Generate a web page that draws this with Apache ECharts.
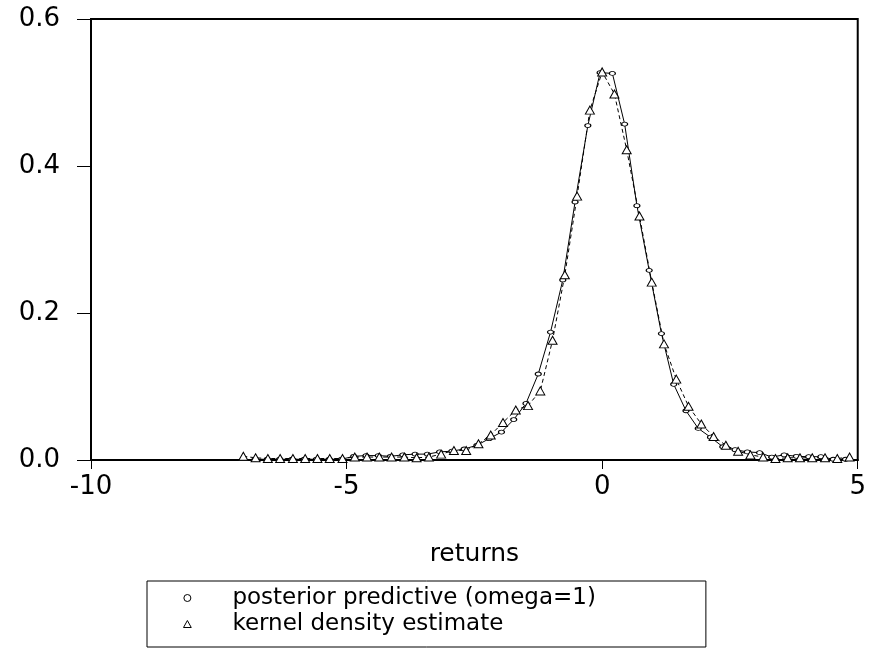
<!DOCTYPE html>
<html><head><meta charset="UTF-8">
<title>returns density</title>
<script src="https://cdn.jsdelivr.net/npm/echarts@6/dist/echarts.min.js"></script>
<style>
  *{padding:0;margin:0;}
  html,body{width:100%;height:100%;background:#fff;}
  #main{width:869px;height:650px;}
</style>
</head>
<body>
<div id="main"></div>
<script>
// posterior predictive (omega=1) - solid line, small circles
var ppX = [-6.79,-6.55,-6.31,-6.07,-5.83,-5.59,-5.34,-5.10,-4.86,-4.62,-4.38,-4.14,-3.90,-3.66,-3.42,-3.18,-2.94,-2.70,-2.45,-2.21,
           -1.97,-1.73,-1.49,-1.25,-1.01,-0.77,-0.53,-0.28,-0.04,0.20,0.44,0.68,0.92,1.16,1.40,1.64,1.88,2.12,2.36,2.60,
           2.84,3.08,3.32,3.56,3.80,4.04,4.28,4.52,4.76];
var ppY = [0.001,0.001,0.001,0.001,0.001,0.001,0.001,0.001,0.005,0.006,0.006,0.005,0.007,0.008,0.008,0.011,0.012,0.015,0.020,0.029,
           0.038,0.055,0.077,0.117,0.174,0.245,0.351,0.455,0.527,0.526,0.457,0.346,0.258,0.172,0.103,0.067,0.043,0.031,0.018,0.014,
           0.011,0.010,0.004,0.007,0.005,0.0045,0.0045,0.001,0.001];

// kernel density estimate - dashed line, triangles
var kdX = [-7.02,-6.78,-6.54,-6.30,-6.05,-5.81,-5.57,-5.33,-5.08,-4.84,-4.60,-4.36,-4.12,-3.87,-3.63,-3.39,-3.15,-2.90,-2.66,-2.42,
           -2.18,-1.94,-1.69,-1.45,-1.21,-0.97,-0.73,-0.49,-0.24,0.00,0.24,0.48,0.73,0.97,1.21,1.45,1.69,1.94,2.18,2.42,
           2.66,2.90,3.15,3.39,3.63,3.87,4.11,4.36,4.60,4.84];
var kdY = [0.005,0.003,0.002,0.002,0.002,0.002,0.002,0.002,0.002,0.004,0.004,0.004,0.004,0.004,0.003,0.004,0.008,0.013,0.013,0.022,
           0.034,0.051,0.068,0.074,0.094,0.163,0.252,0.359,0.476,0.528,0.498,0.422,0.332,0.242,0.158,0.110,0.073,0.049,0.032,0.020,
           0.012,0.007,0.004,0.002,0.003,0.003,0.003,0.003,0.002,0.004];

var xTicks = [-10, -5, 0, 5];
var yTicks = ['0.0', '0.2', '0.4', '0.6'];

function pairs(xs, ys){
    var out = [];
    for (var i = 0; i < xs.length; i++) out.push([xs[i], ys[i]]);
    return out;
}

var FONT = 'DejaVu Sans';
var chart = echarts.init(document.getElementById('main'));
chart.setOption({
    animation: false,
    backgroundColor: '#fff',
    grid: {
        left: 91, right: 11, top: 19, bottom: 190,
        show: true, borderColor: '#000', borderWidth: 2
    },
    xAxis: {
        type: 'value', min: -10, max: 5, interval: 5,
        name: 'returns', nameLocation: 'middle', nameGap: 82,
        nameTextStyle: {color: '#000', fontFamily: FONT, fontSize: 25},
        axisLine: {onZero: false, lineStyle: {color: '#000', width: 2}},
        axisTick: {length: 9, lineStyle: {color: '#000', width: 1}},
        axisLabel: {color: '#000', fontFamily: FONT, fontSize: 26, margin: 14,
            formatter: function(v){ return xTicks.indexOf(v) >= 0 ? String(v) : ''; }},
        splitLine: {show: false}
    },
    yAxis: {
        type: 'value', min: 0, max: 0.6, interval: 0.2,
        axisLine: {show: true, onZero: false, lineStyle: {color: '#000', width: 2}},
        axisTick: {show: true, length: 14, lineStyle: {color: '#000', width: 1}},
        axisLabel: {color: '#000', fontFamily: FONT, fontSize: 26, margin: 31,
            formatter: function(v){ return yTicks[Math.round(v / 0.2)]; }},
        splitLine: {show: false}
    },
    legend: {
        orient: 'vertical',
        left: 147, top: 581,
        padding: [4, 110, 10, 36],
        itemWidth: 8, itemHeight: 7, itemGap: 0,
        borderColor: '#000', borderWidth: 1,
        textStyle: {color: '#000', fontFamily: FONT, fontSize: 23, lineHeight: 26,
            padding: [0, 0, 0, 36]},
        data: [
            {name: 'posterior predictive (omega=1)',
             icon: 'path://M0,5A5,5 0 1,0 10,5A5,5 0 1,0 0,5Z',
             itemStyle: {color: '#fff', borderColor: '#000', borderWidth: 1}},
            {name: 'kernel density estimate',
             icon: 'path://M5,0L10,9L0,9Z',
             itemStyle: {color: '#fff', borderColor: '#000', borderWidth: 1}}
        ]
    },
    series: [
        {
            name: 'posterior predictive (omega=1)',
            type: 'line',
            data: pairs(ppX, ppY),
            symbol: 'circle', symbolSize: [6, 4],
            showSymbol: true,
            lineStyle: {color: '#000', width: 1, type: 'solid'},
            itemStyle: {color: '#fff', borderColor: '#000', borderWidth: 1}
        },
        {
            name: 'kernel density estimate',
            type: 'line',
            data: pairs(kdX, kdY),
            symbol: 'triangle', symbolSize: [9, 8],
            showSymbol: true,
            lineStyle: {color: '#000', width: 1, type: [4, 3]},
            itemStyle: {color: '#fff', borderColor: '#000', borderWidth: 1}
        }
    ]
});
</script>
</body></html>
